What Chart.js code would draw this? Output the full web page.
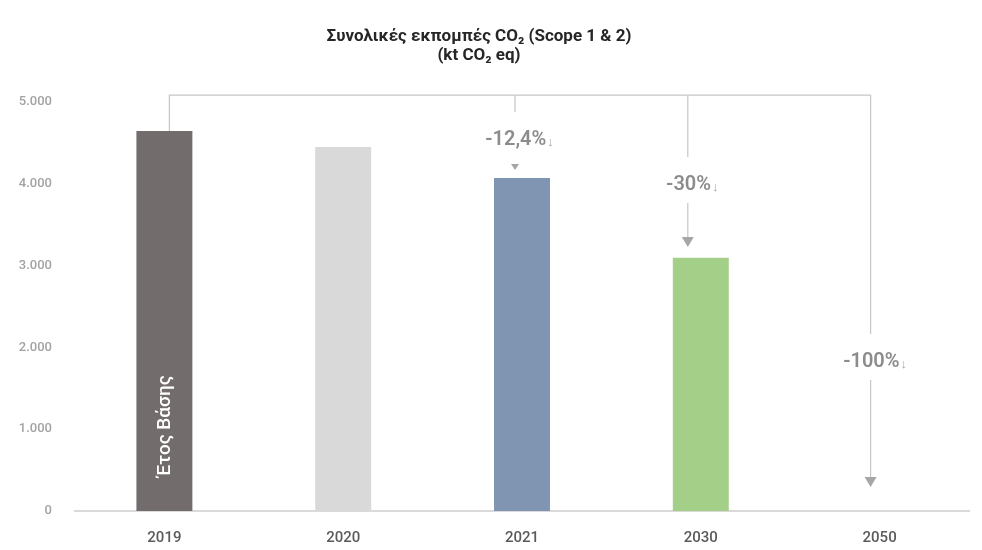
<!DOCTYPE html>
<html>
<head>
<meta charset="utf-8">
<script src="https://cdn.jsdelivr.net/npm/chart.js@4/dist/chart.umd.min.js"></script>
<style>
  html, body { margin: 0; padding: 0; background: #fff; }
  #wrap { width: 982px; height: 550px; position: relative; }
</style>
</head>
<body>
<div id="wrap"><canvas id="co2Chart" width="982" height="550"></canvas></div>
<script>
const years = ['2019', '2020', '2021', '2030', '2050'];
const emissions = [4645, 4450, 4070, 3095, 0];
const barColors = ['#736c6c', '#d9d9d9', '#7f95b1', '#a4cf88', '#cccccc'];
const yTicks = [0, 1000, 2000, 3000, 4000, 5000];
const reductions = ['-12,4%', '-30%', '-100%'];
const reductionIdx = [2, 3, 4];
const baseYearLabel = 'Έτος Βάσης';

// where the reduction texts and arrow tips sit, in kt CO2 units
const labelAt = [4535, 3985, 1822];
const arrowTo = [4169, 3227, 293];
const bracketTop = 5085;
// the bracket drops are a bit off the bar centres in the original
const dropShift = [-7, -13, -9];

const fmt = v => String(v).replace(/\B(?=(\d{3})+(?!\d))/g, '.');
const FONT = 'Roboto, "Noto Sans", sans-serif';

const overlay = {
    id: 'overlay',
    afterDatasetsDraw(chart) {
        const { ctx } = chart;
        const xs = chart.scales.x, ys = chart.scales.y;
        const top = ys.getPixelForValue(bracketTop);
        ctx.save();

        // title
        ctx.fillStyle = '#262626';
        ctx.textAlign = 'center';
        ctx.textBaseline = 'middle';
        ctx.font = 'bold 17px ' + FONT;
        ctx.fillText('Συνολικές εκπομπές CO₂ (Scope 1 & 2)', 479, 37);
        ctx.fillText('(kt CO₂ eq)', 479, 56);

        // bracket
        ctx.strokeStyle = '#c6c6c6';
        ctx.lineWidth = 1.2;
        const x0 = xs.getPixelForValue(0) + 5;
        ctx.beginPath();
        ctx.moveTo(x0, ys.getPixelForValue(emissions[0]));
        ctx.lineTo(x0, top);
        ctx.lineTo(xs.getPixelForValue(years.length - 1) + dropShift[2], top);
        ctx.stroke();

        reductions.forEach((txt, k) => {
            const i = reductionIdx[k];
            const x = xs.getPixelForValue(i) + dropShift[k];
            const ty = ys.getPixelForValue(labelAt[k]);
            const tip = ys.getPixelForValue(arrowTo[k]);

            ctx.strokeStyle = '#c6c6c6';
            ctx.beginPath();
            ctx.moveTo(x, top);
            ctx.lineTo(x, ty - 28);
            ctx.stroke();

            if (tip - (ty + 18) > 14) {
                ctx.beginPath();
                ctx.moveTo(x, ty + 18);
                ctx.lineTo(x, tip - 6);
                ctx.stroke();
            }
            ctx.fillStyle = '#a6a6a6';
            const big = tip - ty > 40;
            const hw = big ? 6 : 4, hh = big ? 10 : 6;
            ctx.beginPath();
            ctx.moveTo(x - hw, tip - hh);
            ctx.lineTo(x + hw, tip - hh);
            ctx.lineTo(x, tip);
            ctx.closePath();
            ctx.fill();

            ctx.font = '600 20px ' + FONT;
            const w = ctx.measureText(txt).width;
            ctx.font = 'bold 13px ' + FONT;
            const aw = ctx.measureText('↓').width;
            const left = x - (w + aw) / 2 + 4;
            ctx.fillStyle = '#8c8c8c';
            ctx.textAlign = 'left';
            ctx.font = '600 20px ' + FONT;
            ctx.fillText(txt, left, ty);
            ctx.fillStyle = '#a6a6a6';
            ctx.font = 'bold 13px ' + FONT;
            ctx.fillText('↓', left + w + 1, ty + 3);
        });

        // base year label inside first bar
        ctx.translate(xs.getPixelForValue(0) + 1, ys.getPixelForValue(1040));
        ctx.rotate(-Math.PI / 2);
        ctx.fillStyle = '#ffffff';
        ctx.textAlign = 'center';
        ctx.textBaseline = 'middle';
        ctx.font = '500 19px ' + FONT;
        ctx.fillText(baseYearLabel, 0, 0);
        ctx.restore();
    }
};

new Chart(document.getElementById('co2Chart'), {
    type: 'bar',
    data: {
        labels: years,
        datasets: [{
            label: 'kt CO2 eq',
            data: emissions,
            backgroundColor: barColors,
            barPercentage: 0.313,
            categoryPercentage: 1
        }]
    },
    options: {
        responsive: false,
        animation: false,
        layout: { padding: { top: 102, right: 13, left: 0, bottom: 0 } },
        plugins: {
            legend: { display: false },
            tooltip: { enabled: false }
        },
        scales: {
            x: {
                grid: { display: false },
                border: { color: '#dadada', width: 2 },
                ticks: { color: '#5a5a5a', padding: 10, font: { size: 15, weight: '500', family: 'Roboto' } },
                afterFit: s => { s.height = 39; }
            },
            y: {
                min: 0,
                max: 5000,
                afterBuildTicks: s => { s.ticks = yTicks.map(v => ({ value: v })); },
                grid: { display: false },
                border: { display: false },
                ticks: {
                    color: '#a3a3a3',
                    padding: 15,
                    font: { size: 13, weight: '500', family: 'Roboto' },
                    callback: v => fmt(v)
                },
                afterFit: s => { s.width = 75; }
            }
        }
    },
    plugins: [overlay]
});
</script>
</body>
</html>
